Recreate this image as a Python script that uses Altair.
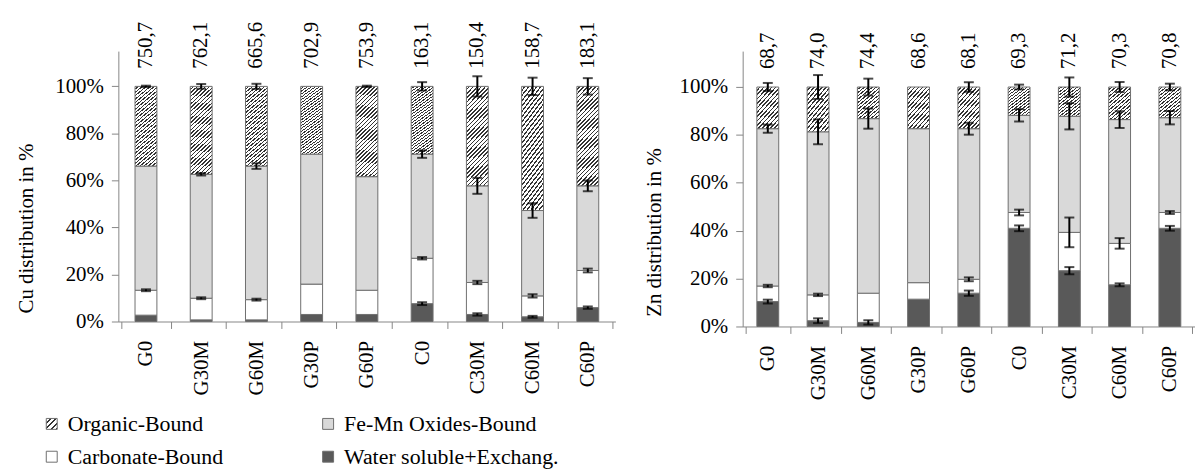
import json
import altair as alt
import pandas as pd

samples = ["G0", "G30M", "G60M", "G30P", "G60P", "C0", "C30M", "C60M", "C60P"]
fractions = ["Organic-Bound", "Fe-Mn Oxides-Bound", "Carbonate-Bound", "Water soluble+Exchang."]

# Cu fractions (% of total), bottom to top: water, carbonate, Fe-Mn, organic
cu_water = [2.7, 0.7, 0.7, 3.0, 3.0, 7.6, 3.0, 2.0, 5.9]
cu_carb = [10.6, 9.2, 8.6, 12.9, 10.3, 19.3, 13.6, 8.9, 15.8]
cu_femn = [52.8, 52.7, 56.8, 55.3, 48.3, 44.3, 41.1, 36.3, 36.0]
cu_org = [33.9, 37.4, 33.9, 28.8, 38.4, 28.8, 42.3, 52.8, 42.3]
cu_water_err = [0, 0, 0, 0, 0, 0.6, 0.5, 0.4, 0.5]
cu_carb_err = [0.4, 0.4, 0.4, 0, 0, 0.5, 0.7, 0.7, 0.8]
cu_femn_err = [0, 0.5, 1.2, 0, 0, 1.6, 3.4, 3.1, 2.3]
cu_org_err = [0.3, 1.0, 1.1, 0, 0.3, 1.8, 4.3, 3.7, 3.5]
cu_total = [750.7, 762.1, 665.6, 702.9, 753.9, 163.1, 150.4, 158.7, 183.1]

# Zn fractions
zn_water = [10.4, 2.4, 1.7, 11.4, 13.9, 41.0, 23.3, 17.4, 41.0]
zn_carb = [6.5, 10.8, 12.2, 6.9, 5.8, 6.6, 16.0, 17.3, 6.6]
zn_femn = [65.7, 68.1, 72.9, 64.3, 62.9, 40.6, 48.5, 51.7, 39.6]
zn_org = [17.4, 18.7, 13.2, 17.4, 17.4, 11.8, 12.2, 13.6, 12.8]
zn_water_err = [0.8, 1.0, 0.9, 0, 1.1, 1.2, 1.5, 0.6, 1.0]
zn_carb_err = [0.5, 0.5, 0, 0, 0.8, 1.2, 6.2, 2.2, 0.6]
zn_femn_err = [1.7, 5.2, 4.2, 0, 2.5, 2.6, 5.5, 3.5, 2.8]
zn_org_err = [1.7, 5.0, 3.5, 0, 2.0, 1.0, 4.0, 2.1, 1.4]
zn_total = [68.7, 74.0, 74.4, 68.6, 68.1, 69.3, 71.2, 70.3, 70.8]

FONT = "Liberation Serif"
FS = 21
LFS = 22
DARK = "#595959"
LIGHT = "#d9d9d9"
EDGE = "#6f6f6f"
AXIS = "#868686"


def long_frame(water, carb, femn, org, we, ce, fe, oe):
    rows = []
    series = [
        ("Water soluble+Exchang.", 0, water, we),
        ("Carbonate-Bound", 1, carb, ce),
        ("Fe-Mn Oxides-Bound", 2, femn, fe),
        ("Organic-Bound", 3, org, oe),
    ]
    for name, order, vals, errs in series:
        for s, v, e in zip(samples, vals, errs):
            rows.append({"sample": s, "fraction": name, "order": order,
                         "value": v / 100.0, "err": e / 100.0})
    return pd.DataFrame(rows)


def hatch(x2, y2, n, frac=0.38, ink="#333333"):
    stops = []
    for k in range(n):
        o0 = k / n
        o1 = (k + 1 - frac) / n
        o2 = (k + 1) / n
        stops += [{"offset": o0, "color": "white"}, {"offset": o1, "color": "white"},
                  {"offset": o1, "color": ink}, {"offset": o2, "color": ink}]
    return {"gradient": "linear", "x1": 0, "y1": 0, "x2": x2, "y2": y2, "stops": stops}


legend_hatch = hatch(1, 1, 4)
color_scale = alt.Scale(
    domain=fractions,
    range=[{"expr": json.dumps(legend_hatch)}, LIGHT, "white", DARK],
)


def panel(df, totals, title, width, height, grad, title_x, title_y):
    base = alt.Chart(df).transform_stack(
        stack="value", as_=["v0", "v1"], groupby=["sample"],
        sort=[alt.SortField("order", "ascending")],
    )
    xenc = alt.X("sample:N", sort=samples, scale=alt.Scale(domain=samples),
                 axis=alt.Axis(title=None, labelAngle=270, labelFont=FONT, labelFontSize=FS,
                               labelColor="black", domainColor=AXIS, tickColor=AXIS,
                               tickBand="extent", tickSize=7, labelPadding=12, grid=False))
    yscale = alt.Scale(domain=[0, 1.15], nice=False)
    yenc = alt.Y("v0:Q", scale=yscale,
                 axis=alt.Axis(title=title, values=[0, 0.2, 0.4, 0.6, 0.8, 1.0], format="%",
                               labelFont=FONT, labelFontSize=FS, labelColor="black",
                               titleFont=FONT, titleFontSize=FS, titleFontWeight="normal",
                               titleColor="black", titleX=title_x, titleY=title_y,
                               domainColor=AXIS, tickColor=AXIS, tickSize=7, labelPadding=8,
                               grid=False))
    bars = base.transform_filter(alt.datum.order < 3).mark_bar(
        size=22, stroke=EDGE, strokeWidth=1).encode(
        x=xenc, y=yenc, y2="v1:Q",
        color=alt.Color("fraction:N", scale=color_scale,
                        legend=alt.Legend(title=None, orient="none", legendX=-78, legendY=364,
                                          direction="horizontal", columns=2,
                                          columnPadding=94, rowPadding=11,
                                          symbolType="square", symbolSize=121,
                                          symbolStrokeColor=EDGE, symbolStrokeWidth=1,
                                          labelFont=FONT, labelFontSize=LFS, labelColor="black",
                                          labelOffset=5, labelLimit=0)),
    )
    org = base.transform_filter(alt.datum.order == 3).mark_bar(
        size=22, color=grad, stroke=EDGE, strokeWidth=1).encode(
        x=alt.X("sample:N", sort=samples), y="v0:Q", y2="v1:Q")
    errs = base.transform_filter(alt.datum.err > 0).transform_calculate(
        lo="datum.v1 - datum.err", hi="datum.v1 + datum.err")
    rule = errs.mark_rule(color="black", strokeWidth=2).encode(
        x=alt.X("sample:N", sort=samples), y="lo:Q", y2="hi:Q")
    cap_lo = errs.mark_tick(color="black", thickness=2, size=10).encode(
        x=alt.X("sample:N", sort=samples), y="lo:Q")
    cap_hi = errs.mark_tick(color="black", thickness=2, size=10).encode(
        x=alt.X("sample:N", sort=samples), y="hi:Q")
    tdf = pd.DataFrame({"sample": samples, "total": totals, "pos": [1.075] * len(samples)})
    labels = alt.Chart(tdf).transform_calculate(
        txt="replace(format(datum.total, '.1f'), '.', ',')").mark_text(
        angle=270, align="left", baseline="middle", font=FONT, fontSize=FS, color="black").encode(
        x=alt.X("sample:N", sort=samples), y=alt.Y("pos:Q"), text="txt:N")
    return alt.layer(bars, org, rule, cap_lo, cap_hi, labels).properties(width=width, height=height)


cu_df = long_frame(cu_water, cu_carb, cu_femn, cu_org,
                   cu_water_err, cu_carb_err, cu_femn_err, cu_org_err)
zn_df = long_frame(zn_water, zn_carb, zn_femn, zn_org,
                   zn_water_err, zn_carb_err, zn_femn_err, zn_org_err)

cu = panel(cu_df, cu_total, "Cu distribution in %", 500, 272,
           hatch(0.269, 1.168, 29), -82, 178)
zn = panel(zn_df, zn_total, "Zn distribution in %", 455, 277,
           hatch(0.686, 1.183, 15), -79, 182)

chart = alt.hconcat(cu, zn, spacing=128, bounds="flush").resolve_scale(
    color="shared", x="independent", y="independent"
).configure_view(stroke=None).properties(
    padding={"left": 8, "top": 12, "right": 0, "bottom": 0}
)

chart.save("out.html", embed_options={"renderer": "svg", "actions": False})
